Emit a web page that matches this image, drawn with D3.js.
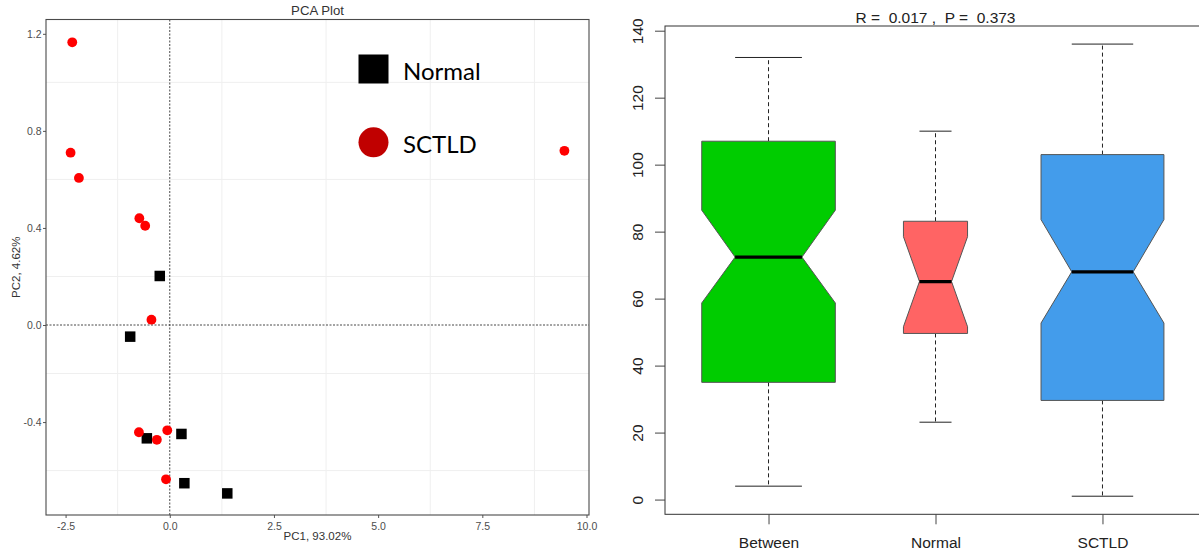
<!DOCTYPE html>
<html>
<head>
<meta charset="utf-8">
<script src="https://cdn.jsdelivr.net/npm/d3@7"></script>
<style>
  body { margin: 0; background: #fff; }
  svg { display: block; }
</style>
</head>
<body>
<svg id="chart" width="1199" height="556"></svg>
<script>
// ---- PCA scores (PC1, PC2) per sample ----
const normalPC1 = [-0.24, -0.95, -0.55, 0.28, 0.35, 1.38];
const normalPC2 = [0.202, -0.048, -0.467, -0.449, -0.652, -0.694];
const sctldPC1 = [-2.34, -2.38, -2.18, -0.73, -0.59, -0.44, -0.74, -0.31, -0.06, -0.09, 9.47];
const sctldPC2 = [1.165, 0.71, 0.606, 0.44, 0.409, 0.022, -0.442, -0.473, -0.434, -0.636, 0.718];
const pcaXTicks = [-2.5, 0, 2.5, 5, 7.5, 10];
const pcaYTicks = [-0.4, 0, 0.4, 0.8, 1.2];
const pcaXGrid = [-1.25, 1.25, 3.75, 6.25, 8.75];
const pcaYGrid = [-0.6, -0.2, 0.2, 0.6, 1.0];
const legendLabels = ["Normal", "SCTLD"];
const pcaTitle = "PCA Plot";
const pcaXLabel = "PC1, 93.02%";
const pcaYLabel = "PC2, 4.62%";

// ---- ANOSIM rank dissimilarity boxplot statistics ----
const groups = ["Between", "Normal", "SCTLD"];
const whiskerLow = [4.0, 23.1, 1.0];
const q1 = [35.0, 49.6, 29.6];
const notchLow = [58.7, 51.6, 52.7];
const median = [72.4, 65.1, 68.0];
const notchHigh = [86.4, 78.5, 83.6];
const q3 = [107.0, 83.1, 103.0];
const whiskerHigh = [132.0, 110.0, 136.0];
const boxRelWidth = [1.0, 0.48, 0.92];
const boxColors = ["#00cc00", "#ff6464", "#439ceb"];
const boxYTicks = [0, 20, 40, 60, 80, 100, 120, 140];
const statTitle = "R =  0.017 ,  P =  0.373";

const svg = d3.select("#chart");
const sans = "'Liberation Sans', Arial, sans-serif";
const fmt1 = d => d.toFixed(1);   // plain hyphen for negatives

// =================== PCA panel ===================
const pca = svg.append("g");
const px = d3.scaleLinear().domain([-2.97, 10.06]).range([46, 589]);
const py = d3.scaleLinear().domain([-0.783, 1.259]).range([515, 19.5]);

// grid
pca.append("g").selectAll("line").data(pcaXGrid).join("line")
  .attr("x1", d => px(d)).attr("x2", d => px(d))
  .attr("y1", py.range()[1]).attr("y2", py.range()[0])
  .attr("stroke", "#efefef").attr("stroke-width", 1);
pca.append("g").selectAll("line").data(pcaYGrid).join("line")
  .attr("y1", d => py(d)).attr("y2", d => py(d))
  .attr("x1", px.range()[0]).attr("x2", px.range()[1])
  .attr("stroke", "#efefef").attr("stroke-width", 1);

// zero reference lines
pca.append("line")
  .attr("x1", px(0)).attr("x2", px(0))
  .attr("y1", py.range()[1]).attr("y2", py.range()[0])
  .attr("stroke", "#333").attr("stroke-width", 0.9).attr("stroke-dasharray", "2,1.5");
pca.append("line")
  .attr("y1", py(0)).attr("y2", py(0))
  .attr("x1", px.range()[0]).attr("x2", px.range()[1])
  .attr("stroke", "#333").attr("stroke-width", 0.9).attr("stroke-dasharray", "2,1.5");

// axes
const pxAxis = pca.append("g").attr("transform", `translate(0,${py.range()[0]})`)
  .call(d3.axisBottom(px).tickValues(pcaXTicks).tickFormat(fmt1).tickSize(3).tickPadding(2));
const pyAxis = pca.append("g").attr("transform", `translate(${px.range()[0]},0)`)
  .call(d3.axisLeft(py).tickValues(pcaYTicks).tickFormat(fmt1).tickSize(3).tickPadding(1.5));
[pxAxis, pyAxis].forEach(a => {
  a.select(".domain").remove();
  a.selectAll(".tick line").attr("stroke", "#555");
  a.selectAll("text").attr("fill", "#4d4d4d").style("font-family", sans).style("font-size", "10.5px");
});
pxAxis.selectAll("text").attr("dy", 0).attr("y", 14.5);

// panel frame
pca.append("rect")
  .attr("x", px.range()[0]).attr("y", py.range()[1])
  .attr("width", px.range()[1] - px.range()[0]).attr("height", py.range()[0] - py.range()[1])
  .attr("fill", "none").attr("stroke", "#4a4a4a").attr("stroke-width", 1.1);

// points
const normalPts = normalPC1.map((v, i) => [v, normalPC2[i]]);
const sctldPts = sctldPC1.map((v, i) => [v, sctldPC2[i]]);
const sq = 10.5;
pca.append("g").selectAll("rect").data(normalPts).join("rect")
  .attr("x", d => px(d[0]) - sq / 2).attr("y", d => py(d[1]) - sq / 2)
  .attr("width", sq).attr("height", sq).attr("fill", "#000");
pca.append("g").selectAll("circle").data(sctldPts).join("circle")
  .attr("cx", d => px(d[0])).attr("cy", d => py(d[1])).attr("r", 4.9)
  .attr("fill", "#ff0000");

// titles
pca.append("text").attr("x", (px.range()[0] + px.range()[1]) / 2).attr("y", 15)
  .attr("text-anchor", "middle").attr("fill", "#333")
  .style("font-family", sans).style("font-size", "13.2px").text(pcaTitle);
pca.append("text").attr("x", (px.range()[0] + px.range()[1]) / 2).attr("y", 540)
  .attr("text-anchor", "middle").attr("fill", "#333")
  .style("font-family", sans).style("font-size", "11.5px").text(pcaXLabel);
pca.append("text")
  .attr("transform", `translate(19.5,${(py.range()[0] + py.range()[1]) / 2}) rotate(-90)`)
  .attr("text-anchor", "middle").attr("fill", "#333")
  .style("font-family", sans).style("font-size", "11.5px").text(pcaYLabel);

// legend
const lg = pca.append("g");
lg.append("rect").attr("x", 358.5).attr("y", 54.5).attr("width", 30).attr("height", 29).attr("fill", "#000");
lg.append("circle").attr("cx", 373.5).attr("cy", 142.3).attr("r", 15).attr("fill", "#c00000");
lg.selectAll("text").data(legendLabels).join("text")
  .attr("x", 403).attr("y", (d, i) => i === 0 ? 80 : 153)
  .attr("fill", "#000").style("font-family", "Lato, 'Open Sans', sans-serif").style("font-size", "24px")
  .text(d => d);

// =================== Boxplot panel ===================
const bp = svg.append("g");
const bx = d3.scaleLinear().domain([0.38, 3.62]).range([665, 1206]);
const by = d3.scaleLinear().domain([-4.4, 141.4]).range([514.3, 26]);

// frame
bp.append("rect")
  .attr("x", bx.range()[0]).attr("y", by.range()[1])
  .attr("width", bx.range()[1] - bx.range()[0]).attr("height", by.range()[0] - by.range()[1])
  .attr("fill", "none").attr("stroke", "#333").attr("stroke-width", 1);

// boxes
const boxes = groups.map((g, i) => ({
  g, pos: i + 1, lo: whiskerLow[i], q1: q1[i], nl: notchLow[i], med: median[i],
  nh: notchHigh[i], q3: q3[i], hi: whiskerHigh[i], w: 0.8 * boxRelWidth[i], color: boxColors[i]
}));

const bg = bp.append("g").selectAll("g").data(boxes).join("g");
const halfW = d => (bx(d.pos + d.w / 2) - bx(d.pos - d.w / 2)) / 2;

// whiskers
bg.append("line")
  .attr("x1", d => bx(d.pos)).attr("x2", d => bx(d.pos))
  .attr("y1", d => by(d.q3)).attr("y2", d => by(d.hi))
  .attr("stroke", "#222").attr("stroke-width", 1).attr("stroke-dasharray", "4,3");
bg.append("line")
  .attr("x1", d => bx(d.pos)).attr("x2", d => bx(d.pos))
  .attr("y1", d => by(d.q1)).attr("y2", d => by(d.lo))
  .attr("stroke", "#222").attr("stroke-width", 1).attr("stroke-dasharray", "4,3");
bg.append("line")
  .attr("x1", d => bx(d.pos) - halfW(d) / 2).attr("x2", d => bx(d.pos) + halfW(d) / 2)
  .attr("y1", d => by(d.hi)).attr("y2", d => by(d.hi))
  .attr("stroke", "#222").attr("stroke-width", 1);
bg.append("line")
  .attr("x1", d => bx(d.pos) - halfW(d) / 2).attr("x2", d => bx(d.pos) + halfW(d) / 2)
  .attr("y1", d => by(d.lo)).attr("y2", d => by(d.lo))
  .attr("stroke", "#222").attr("stroke-width", 1);

// notched box body
bg.append("polygon")
  .attr("points", d => {
    const c = bx(d.pos), h = halfW(d), q = h / 2;
    return [
      [c - h, by(d.q3)], [c + h, by(d.q3)], [c + h, by(d.nh)], [c + q, by(d.med)],
      [c + h, by(d.nl)], [c + h, by(d.q1)], [c - h, by(d.q1)], [c - h, by(d.nl)],
      [c - q, by(d.med)], [c - h, by(d.nh)]
    ].map(p => p.join(",")).join(" ");
  })
  .attr("fill", d => d.color).attr("stroke", "#555").attr("stroke-width", 1);

// median
bg.append("line")
  .attr("x1", d => bx(d.pos) - halfW(d) / 2).attr("x2", d => bx(d.pos) + halfW(d) / 2)
  .attr("y1", d => by(d.med)).attr("y2", d => by(d.med))
  .attr("stroke", "#000").attr("stroke-width", 3.3);

// axes
const byAxis = bp.append("g").attr("transform", `translate(${bx.range()[0]},0)`)
  .call(d3.axisLeft(by).tickValues(boxYTicks).tickSize(10));
const bxAxis = bp.append("g").attr("transform", `translate(0,${by.range()[0]})`)
  .call(d3.axisBottom(bx).tickValues([1, 2, 3]).tickFormat(d => groups[d - 1]).tickSize(10));
[byAxis, bxAxis].forEach(a => {
  a.select(".domain").remove();
  a.selectAll(".tick line").attr("stroke", "#444");
  a.selectAll("text").attr("fill", "#222").style("font-family", sans).style("font-size", "15.5px");
});
byAxis.selectAll("text")
  .attr("transform", "rotate(-90)").attr("x", 0).attr("y", -21.7).attr("dy", 0)
  .attr("text-anchor", "middle");
bxAxis.selectAll("text").attr("y", 33.7).attr("dy", 0);

// statistic title
bp.append("text")
  .attr("x", (bx.range()[0] + bx.range()[1]) / 2).attr("y", 22.5)
  .attr("text-anchor", "middle").attr("fill", "#222")
  .style("white-space", "pre")
  .style("font-family", sans).style("font-size", "15.5px").text(statTitle);
</script>
</body>
</html>
